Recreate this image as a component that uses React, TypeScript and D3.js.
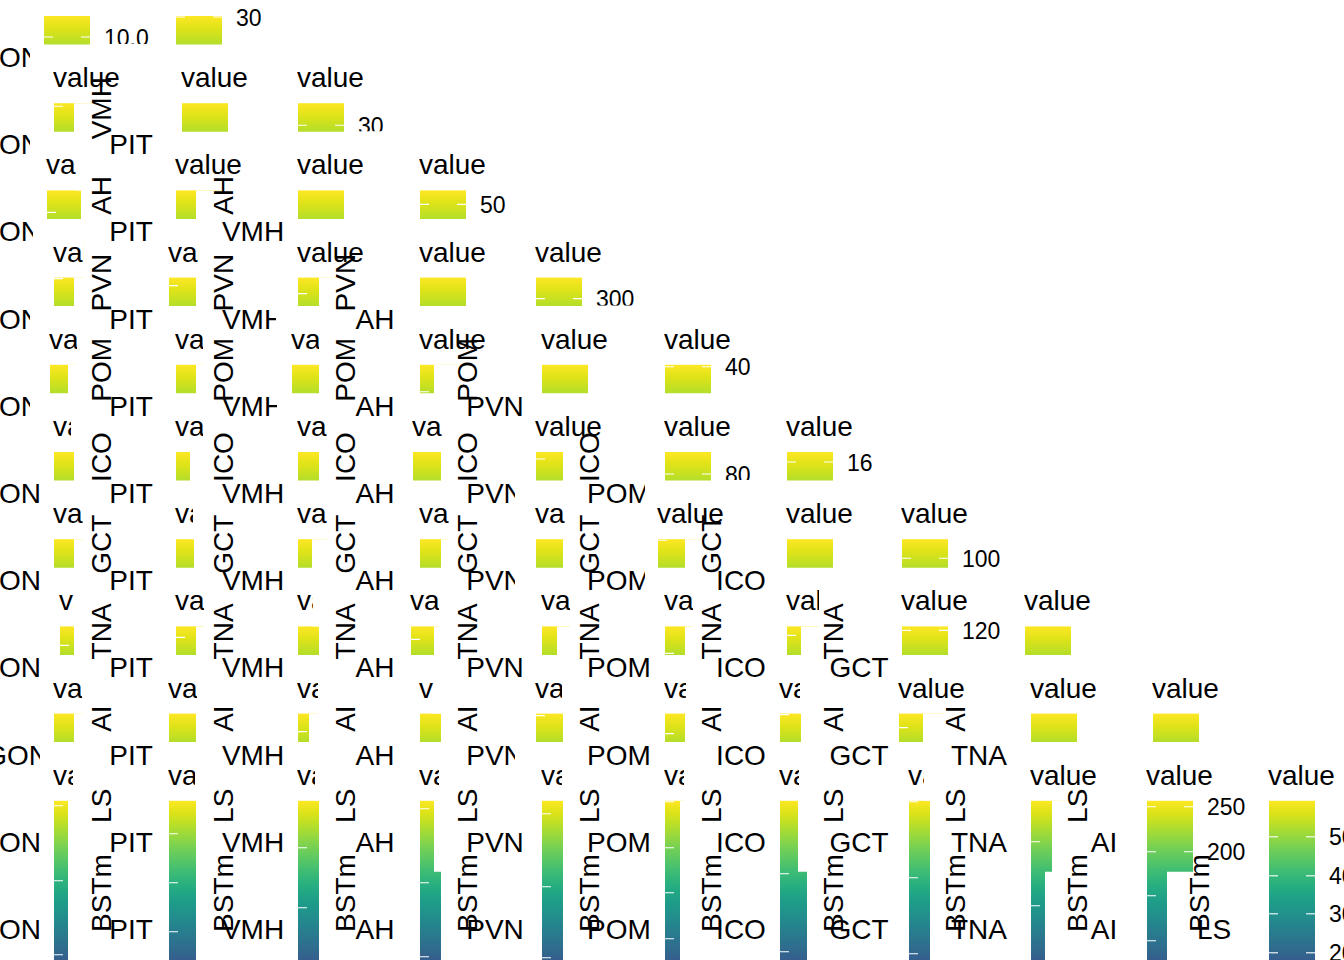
import React from 'react';
import * as d3 from 'd3';

// ---- categories ----
const ROW_LABELS = ['VMH', 'AH', 'PVN', 'POM', 'ICO', 'GCT', 'TNA', 'AI', 'LS', 'BSTm'];
const COL_LABELS = ['PIT', 'VMH', 'AH', 'PVN', 'POM', 'ICO', 'GCT', 'TNA', 'AI', 'LS'];
const AXIS_TITLE = 'GON';
const LEGEND_TITLE = 'value';

// ---- legend tick labels (per legend row, per legend) ----
const TICK_LABELS: Record<string, string[]> = {
  '0-0': ['10.0'],
  '0-1': ['30'],
  '1-2': ['30'],
  '2-3': ['50'],
  '3-4': ['300'],
  '4-5': ['40'],
  '5-5': ['80'],
  '5-6': ['16'],
  '6-7': ['100'],
  '7-7': ['120'],
  '9-9': ['250', '200', '150', '100'],
  '9-10': ['50', '40', '30', '20'],
};

// ---- legend layout: x, visible bar width, visible title width, tick offsets, lower visible width ----
type Leg = { x: number; w: number; tw: number; ticks: number[]; w2?: number };
const L = (x: number, w: number, tw: number, ticks: number[] = [], w2?: number): Leg => ({ x, w, tw, ticks, w2 });

const LEGENDS: Leg[][] = [
  [L(44, 46, 80, [21]), L(176, 46, 80, [1])],
  [L(54, 20, 80, [3]), L(182, 46, 80), L(298, 46, 80, [22])],
  [L(47, 34, 30, [22]), L(176, 20, 80), L(298, 46, 80), L(420, 46, 80, [14])],
  [L(54, 20, 31, [1]), L(169, 27, 31, [8]), L(298, 21, 80, [16]), L(420, 46, 80), L(536, 46, 80, [21])],
  [L(50, 18, 28), L(176, 20, 28), L(292, 27, 28), L(420, 14, 80, [27]), L(542, 46, 80), L(665, 46, 80, [2])],
  [L(54, 20, 18), L(176, 14, 28), L(298, 21, 30), L(413, 28, 30), L(536, 27, 80, [7]), L(665, 46, 80, [22]), L(787, 46, 80, [10])],
  [L(54, 20, 30), L(176, 18, 18), L(298, 14, 30), L(420, 21, 30), L(536, 27, 30), L(658, 27, 80, [1]), L(787, 46, 80), L(902, 46, 80, [19])],
  [L(60, 14, 15, [19]), L(176, 20, 29, [11]), L(298, 21, 16), L(411, 23, 29, [13]), L(542, 15, 29), L(665, 20, 29, [27]), L(787, 14, 33, [9]), L(902, 46, 80, [4]), L(1025, 46, 80)],
  [L(54, 20, 29), L(169, 27, 29), L(298, 11, 21, [18]), L(420, 21, 14), L(536, 27, 27, [2]), L(665, 20, 22, [20]), L(780, 21, 21, [1]), L(899, 24, 80, [14]), L(1031, 46, 80), L(1153, 46, 80)],
  [
    L(54, 14, 20, [5, 80, 154]),
    L(169, 27, 27, [33, 82, 131]),
    L(298, 21, 18, [47, 107]),
    L(420, 14, 20, [8, 82, 156], 21),
    L(542, 21, 21, [13, 86, 157]),
    L(665, 15, 20, [1, 47, 92, 138]),
    L(780, 18, 20, [73, 151], 27),
    L(909, 21, 16, [1, 77, 153]),
    L(1031, 21, 80, [41, 105], 14),
    L(1147, 46, 80, [6, 51, 95, 140], 20),
    L(1269, 46, 80, [36, 75, 113, 152]),
  ],
];

const W = 1344;
const H = 960;
const FONT = '"Liberation Sans", Arial, Helvetica, sans-serif';
const BAR_W = 46;
const TICK_LEN = 9;

const rowY = d3.scaleLinear().domain([0, 10]).range([57, 929]);
const COL_CENTERS = [131, 253, 375, 495, 619, 741, 859, 979, 1104, 1214];
const rotX = d3.scaleLinear().domain([0, 9]).range([111, 111 + 122 * 9]);
const ON_END = [41, 41, 41, 41, 41, 41, 41, 41, 49, 41, 41];
const ON_CLIP = [30, 30, 33, 30, 30, 40, 40, 40, 40, 40, 40];
const XLABEL_CLIP: Record<string, number> = { '3-1': 276, '4-1': 277, '5-3': 515, '5-4': 645, '6-3': 515, '6-4': 645, '8-3': 515 };

export default function App() {
  const stops = d3.range(0, 21).map((i) => ({ off: i / 20, col: d3.interpolateViridis(1 - i / 20) }));

  const legendEls: React.ReactNode[] = [];
  const clipDefs: React.ReactNode[] = [];

  LEGENDS.forEach((row, k) => {
    const T = rowY(k) - 41;
    const last = k === LEGENDS.length - 1;
    const span = last ? 226 : 250;
    const bottom = last ? H : T + 28.5;
    row.forEach((lg, i) => {
      const id = `lg-${k}-${i}`;
      const labels = TICK_LABELS[`${k}-${i}`] || [];
      const segs = last && lg.w2 !== undefined
        ? [{ y0: T, y1: T + 71, w: lg.w }, { y0: T + 71, y1: bottom, w: lg.w2 }]
        : [{ y0: T, y1: bottom, w: lg.w }];
      clipDefs.push(
        <clipPath id={id} key={id}>
          <rect x={lg.x - 1} y={T - 45} width={lg.tw} height={45} />
          {segs.map((s, j) => (
            <rect key={j} x={lg.x} y={s.y0} width={s.w} height={s.y1 - s.y0} />
          ))}
          {segs.filter((s) => s.w >= BAR_W).map((s, j) => (
            <rect key={'l' + j} x={lg.x + BAR_W} y={j === 0 ? s.y0 - 14 : s.y0} width={110} height={s.y1 - s.y0 + (j === 0 ? 14 : 0) - (last ? 0 : 0.5)} />
          ))}
        </clipPath>
      );
      legendEls.push(
        <g key={id} clipPath={`url(#${id})`}>
          <text x={lg.x - 1} y={T - 16} fontSize={28} fontFamily={FONT} fill="#000">{LEGEND_TITLE}</text>
          <rect x={lg.x} y={T} width={BAR_W} height={span} fill="url(#viridisGrad)" />
          {lg.ticks.map((dy, j) => (
            <g key={j}>
              <line x1={lg.x} x2={lg.x + TICK_LEN} y1={T + dy} y2={T + dy} stroke="#fff" strokeWidth={1.1} />
              <line x1={lg.x + BAR_W - TICK_LEN} x2={lg.x + BAR_W} y1={T + dy} y2={T + dy} stroke="#fff" strokeWidth={1.1} />
              {labels[j] !== undefined && (
                <text x={lg.x + BAR_W + 14} y={T + dy + 8.5} fontSize={23} fontFamily={FONT} fill="#000">{labels[j]}</text>
              )}
            </g>
          ))}
        </g>
      );
    });
  });

  const axisEls: React.ReactNode[] = [];
  // left-most clipped axis titles
  d3.range(0, 11).forEach((r) => {
    const id = `on-${r}`;
    clipDefs.push(
      <clipPath id={id} key={id}>
        <rect x={0} y={rowY(r) - 30} width={ON_CLIP[r]} height={60} />
      </clipPath>
    );
    axisEls.push(
      <text key={id} clipPath={`url(#${id})`} x={ON_END[r]} y={rowY(r) + 10} textAnchor="end" fontSize={28} fontFamily={FONT} fill="#000">{AXIS_TITLE}</text>
    );
  });

  // panel labels: x (column) labels and rotated row labels
  ROW_LABELS.forEach((rl, ri) => {
    const r = ri + 1;
    const y = rowY(r);
    d3.range(0, r).forEach((c) => {
      const key = `${r}-${c}`;
      const clipX = XLABEL_CLIP[key];
      if (clipX !== undefined) {
        clipDefs.push(
          <clipPath id={`xl-${key}`} key={`xl-${key}`}>
            <rect x={0} y={y - 30} width={clipX} height={60} />
          </clipPath>
        );
      }
      axisEls.push(
        <text key={`x-${key}`} clipPath={clipX !== undefined ? `url(#xl-${key})` : undefined} x={COL_CENTERS[c]} y={y + 10} textAnchor="middle" fontSize={28} fontFamily={FONT} fill="#000">{COL_LABELS[c]}</text>
      );
      axisEls.push(
        <text key={`y-${key}`} transform={`translate(${rotX(c)},${y - 36}) rotate(-90)`} textAnchor="middle" fontSize={28} fontFamily={FONT} fill="#000">{rl}</text>
      );
    });
  });

  return (
    <svg width={W} height={H} viewBox={`0 0 ${W} ${H}`} style={{ position: 'absolute', left: 0, top: 0, display: 'block', background: '#fff' }}>
      <defs>
        <linearGradient id="viridisGrad" x1="0" y1="0" x2="0" y2="1">
          {stops.map((s, i) => (
            <stop key={i} offset={s.off} stopColor={s.col} />
          ))}
        </linearGradient>
        {clipDefs}
      </defs>
      <rect x={0} y={0} width={W} height={H} fill="#fff" />
      {legendEls}
      {axisEls}
    </svg>
  );
}
